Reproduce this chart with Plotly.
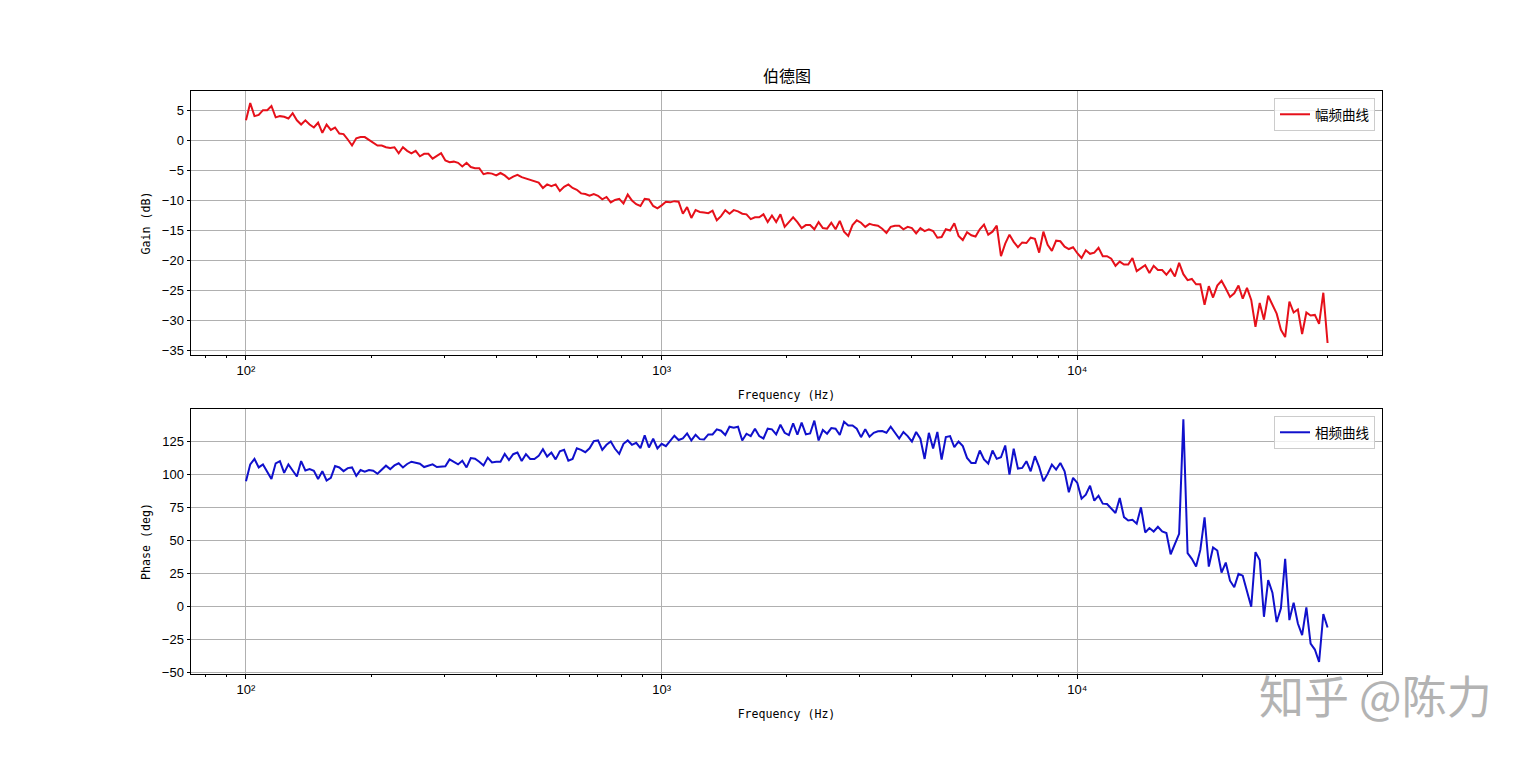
import numpy as np
import plotly.graph_objects as go

# ---------------- data ----------------
gain_db = [
    3.4, 6.3, 4.1, 4.3, 5.1, 5.1, 5.8, 3.9, 4.1, 4.0,
    3.7, 4.6, 3.4, 2.7, 3.4, 2.7, 2.2, 3.0, 1.3, 2.7,
    1.8, 2.2, 1.2, 1.1, 0.2, -0.8, 0.4, 0.6, 0.6, 0.1,
    -0.4, -0.8, -0.8, -1.1, -1.2, -1.1, -2.1, -1.1, -1.7, -2.1,
    -1.7, -2.6, -2.2, -2.2, -3.0, -2.5, -2.1, -3.3, -3.6, -3.5,
    -3.7, -4.3, -3.7, -4.4, -4.6, -4.6, -5.6, -5.4, -5.5, -5.8,
    -5.4, -5.8, -6.4, -6.0, -5.7, -6.1, -6.3, -6.5, -6.7, -7.0,
    -7.9, -7.3, -7.6, -7.3, -8.4, -7.7, -7.3, -7.9, -8.2, -8.8,
    -8.9, -9.2, -8.9, -9.2, -9.8, -9.4,
    -10.3, -9.9, -9.7, -10.5, -9.0, -10.0, -10.6, -10.9, -9.7, -9.8,
    -10.9, -11.3, -10.8, -10.2, -10.3, -10.1, -10.2, -12.2, -11.1, -12.9,
    -11.6, -11.9, -12.0, -12.1, -11.7, -13.3, -12.6, -11.6, -12.2, -11.6,
    -11.8, -12.2, -12.3, -13.1, -12.8, -12.8, -12.3, -13.6, -12.5, -13.6,
    -12.3, -14.4, -13.6, -12.8, -13.6, -14.6, -14.1, -14.1, -14.8, -13.6,
    -14.6, -14.7, -13.7, -14.8, -13.4, -15.2, -15.9, -14.1, -13.3, -13.7,
    -14.4, -13.9, -14.1, -14.2, -14.7, -15.4, -14.4, -14.2, -14.2, -14.8,
    -14.4, -14.6, -15.5, -14.6, -15.1, -14.8, -15.1, -16.2, -16.1, -14.8,
    -15.0, -13.8, -15.9,
    -16.6, -15.3, -15.8, -16.0, -14.8, -14.0, -15.7, -15.2, -14.2, -19.3,
    -17.2, -15.7, -16.9, -17.8, -17.0, -17.1, -16.2, -16.4, -18.7, -15.2,
    -17.4, -18.4, -16.7, -16.8, -17.7, -18.1, -17.8, -18.8, -19.6, -18.3,
    -18.9, -18.7, -17.9, -19.3, -19.3, -19.7, -20.9, -20.2, -20.7, -20.7,
    -19.6, -21.8, -21.3, -20.8, -22.1, -20.9, -21.6, -21.6, -22.4, -21.5,
    -22.7, -20.4, -22.3, -23.3, -23.1, -24.0, -24.0, -27.4, -24.3, -26.2,
    -24.2, -23.4, -24.7, -26.1, -25.5, -24.2, -26.4, -24.6, -26.6, -31.1,
    -27.1, -29.9, -25.9, -27.4, -28.9, -31.6, -32.8, -26.9, -28.7, -28.2,
    -32.3, -28.7, -29.2, -29.1, -30.6, -25.4, -33.8,
]

phase_deg = [
    94.6, 107.4, 111.5, 105.1, 107.4, 102.3, 96.4, 108.2, 109.9, 101.0,
    107.4, 102.8, 98.2, 109.9, 102.8, 103.8, 102.6, 96.4, 102.3, 95.2,
    97.2, 106.1, 105.1, 102.3, 104.6, 105.1, 98.7, 103.1, 101.8, 103.1,
    102.6, 100.3, 103.6, 106.4, 103.8, 106.6, 108.2, 105.1, 107.7, 109.4,
    108.7, 107.9, 105.4, 106.6, 107.4, 105.4, 105.6, 105.9, 111.2, 109.4,
    107.4, 110.2, 105.1, 112.2, 111.7, 109.4, 106.6, 112.5, 108.9, 109.4,
    109.4, 115.3, 110.7, 115.1, 116.3, 110.0, 115.1, 111.5, 111.5, 113.8,
    118.9, 113.3, 116.3, 111.2, 117.3, 118.4, 110.2, 111.5, 119.6, 118.4,
    116.6, 119.6, 125.0, 125.5, 118.4, 122.2,
    124.7, 119.2, 115.4, 123.0, 125.5, 122.2, 123.7, 119.7, 129.3, 120.2,
    126.8, 119.4, 123.0, 121.2, 125.0, 129.1, 125.8, 127.0, 130.8, 125.5,
    129.8, 126.5, 126.3, 130.1, 130.1, 133.9, 132.9, 129.6, 135.9, 135.2,
    135.9, 125.5, 130.6, 128.8, 134.4, 128.8, 127.0, 134.4, 133.9, 130.1,
    137.4, 131.3, 129.6, 138.5, 129.8, 139.0, 130.1, 130.8, 140.5, 125.5,
    133.4, 130.6, 134.9, 134.4, 129.6, 139.7, 136.9, 136.9, 134.4, 128.0,
    133.9, 128.3, 131.3, 132.4, 132.6, 131.3, 135.9, 131.3, 127.0, 131.9,
    128.8, 124.7, 131.9, 126.8, 111.5, 131.3, 119.4, 131.9, 111.0, 128.0,
    128.8, 120.4, 124.7,
    121.2, 112.3, 108.5, 108.5, 117.9, 111.1, 108.0, 117.9, 111.6, 112.8,
    121.7, 99.7, 119.2, 104.2, 104.7, 109.8, 102.2, 113.6, 105.5, 94.6,
    100.2, 107.3, 103.5, 108.5, 102.2, 86.3, 97.2, 93.4, 81.5, 84.5,
    91.3, 79.9, 83.7, 77.7, 77.4, 73.9, 70.6, 82.0, 67.5, 65.0,
    65.5, 62.5, 74.9, 55.9, 59.2, 56.6, 60.2, 56.6, 55.4, 39.4,
    46.5, 54.9, 141.5, 40.2, 35.9, 30.1, 42.7, 67.3, 30.1, 44.5,
    42.2, 25.5, 33.1, 19.4, 14.4, 24.5, 23.2, 11.1, -0.3, 41.0,
    35.1, -7.9, 19.9, 10.3, -11.9, -1.5, 35.9, -10.4, 2.8, -13.0,
    -21.8, -0.8, -28.2, -32.7, -42.1, -5.9, -16.0,
]

f_start_hz = 100
f_stop_hz = 40000
freq_hz = np.logspace(np.log10(f_start_hz), np.log10(f_stop_hz), len(gain_db))

x_major_ticks = [100, 1000, 10000]
x_major_text = ["10²", "10³", "10⁴"]
x_minor_ticks = [80, 90] + [m * 100 for m in range(2, 10)] + \
    [m * 1000 for m in range(2, 10)] + [m * 10000 for m in range(2, 6)]

title_text = "伯德图"
gain_name = "幅频曲线"
phase_name = "相频曲线"
xlabel = "Frequency (Hz)"
gain_label = "Gain (dB)"
phase_label = "Phase (deg)"
watermark = "知乎 @陈力"

# ---------------- figure ----------------
W, H = 1536, 757
L, R, T, B = 191, 154, 91, 83
ph = H - T - B  # plot-area height
pw = W - L - R  # plot-area width

def frac(ypix):
    return (H - B - ypix) / ph

cjk = "Noto Sans CJK SC"
mono = "DejaVu Sans Mono"
tickfont = dict(family="Liberation Sans", size=13, color="black")
titlefont = dict(family=mono, size=11.6, color="black")

fig = go.Figure()
fig.add_trace(go.Scatter(x=freq_hz, y=gain_db, mode="lines", name=gain_name,
                         line=dict(color="#e6101a", width=2),
                         xaxis="x", yaxis="y", legend="legend"))
fig.add_trace(go.Scatter(x=freq_hz, y=phase_deg, mode="lines", name=phase_name,
                         line=dict(color="#1010cc", width=2),
                         xaxis="x2", yaxis="y2", legend="legend2"))

ax_common = dict(showline=True, linecolor="black", linewidth=1, mirror=True,
                 ticks="outside", ticklen=3.5, tickwidth=0.8, tickcolor="black",
                 showgrid=True, gridcolor="#b0b0b0", gridwidth=0.8,
                 zeroline=False, tickfont=tickfont, automargin=False)

xrange_log = [1.8677, 4.733]
xaxis_common = dict(ax_common, type="log", range=xrange_log,
                    tickmode="array", tickvals=x_major_ticks, ticktext=x_major_text,
                    minor=dict(ticks="outside", ticklen=2, tickwidth=0.6,
                               tickcolor="black", showgrid=False,
                               tickmode="array", tickvals=x_minor_ticks),
                    title=dict(text=xlabel, font=titlefont, standoff=13))

legend_style = dict(x=(1375 - L) / pw, xanchor="right", yanchor="top",
                    bgcolor="rgba(255,255,255,0.8)", bordercolor="#cccccc",
                    borderwidth=1, font=dict(family=cjk, size=13.5, color="black"),
                    itemwidth=30, tracegroupgap=0)

fig.update_layout(
    width=W, height=H,
    template="none",
    paper_bgcolor="white", plot_bgcolor="white",
    margin=dict(l=L, r=R, t=T, b=B, pad=0),
    font=dict(family=cjk, color="black"),
    xaxis=dict(xaxis_common, anchor="y", domain=[0, 1]),
    xaxis2=dict(xaxis_common, anchor="y2", domain=[0, 1]),
    yaxis=dict(ax_common, anchor="x", domain=[frac(355), 1],
               range=[-35.8, 8.3], tickmode="linear", tick0=0, dtick=5,
               title=dict(text=gain_label, font=titlefont, standoff=8)),
    yaxis2=dict(ax_common, anchor="x2", domain=[0, frac(409)],
                range=[-51.2, 149.3], tickmode="linear", tick0=0, dtick=25,
                title=dict(text=phase_label, font=titlefont, standoff=8)),
    showlegend=True,
    legend=dict(legend_style, y=frac(98)),
    legend2=dict(legend_style, y=frac(416)),
    annotations=[
        dict(text=title_text, xref="paper", yref="paper", x=0.5, y=1,
             xanchor="center", yanchor="bottom", yshift=2, showarrow=False,
             font=dict(family=cjk, size=16, color="black")),
        dict(text=watermark, xref="paper", yref="paper",
             x=(1375 - L) / pw, y=frac(694),
             xanchor="center", yanchor="middle", showarrow=False,
             font=dict(family=cjk, size=45, color="#b3b3b3")),
    ],
)

fig.write_html("out.html")
